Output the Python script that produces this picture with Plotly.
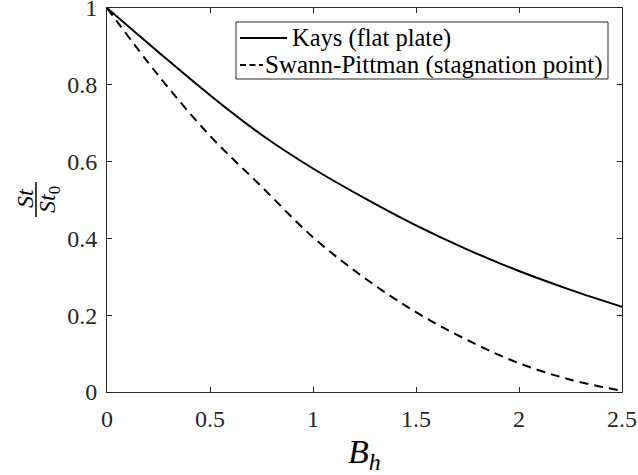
import plotly.graph_objects as go

# Data
B_h = [0, 0.25, 0.5, 0.75, 1.0, 1.25, 1.5, 1.75, 2.0, 2.25, 2.5]
kays = [1.0, 0.885, 0.773, 0.670, 0.582, 0.505, 0.434, 0.371, 0.315, 0.266, 0.222]
swann = [1.0, 0.824, 0.667, 0.535, 0.403, 0.297, 0.208, 0.135, 0.075, 0.032, 0.003]
series_names = ["Kays (flat plate)", "Swann-Pittman (stagnation point)"]
x_ticks = [0, 0.5, 1, 1.5, 2, 2.5]
x_tick_labels = ["0", "0.5", "1", "1.5", "2", "2.5"]
y_ticks = [0, 0.2, 0.4, 0.6, 0.8, 1]
y_tick_labels = ["0", "0.2", "0.4", "0.6", "0.8", "1"]

W, H = 638, 475
L, R, T, Bm = 107, 16, 8, 83
pw, ph = W - L - R, H - T - Bm

def px(xp):
    return (xp - L) / pw

def py(yp):
    return 1 - (yp - T) / ph

FONT = "Liberation Serif"
AX = "#262626"

fig = go.Figure()
fig.add_trace(go.Scatter(x=B_h, y=kays, mode="lines", name=series_names[0],
                         line=dict(color="black", width=2, shape="spline"), showlegend=False))
fig.add_trace(go.Scatter(x=B_h, y=swann, mode="lines", name=series_names[1],
                         line=dict(color="black", width=2, dash="9px,6px", shape="spline"),
                         showlegend=False))

axis_common = dict(showline=True, linecolor=AX, linewidth=1, mirror="ticks",
                   ticks="inside", ticklen=5, tickcolor=AX, showgrid=False, zeroline=False,
                   ticklabeloverflow="allow",
                   tickfont=dict(family=FONT, size=24, color=AX))
fig.update_xaxes(range=[0, 2.5], tickvals=x_ticks, ticktext=x_tick_labels,
                 ticklabelstandoff=5, **axis_common)
fig.update_yaxes(range=[0, 1], tickvals=y_ticks, ticktext=y_tick_labels,
                 ticklabelstandoff=4, **axis_common)

fig.update_layout(
    width=W, height=H, margin=dict(l=L, r=R, t=T, b=Bm, autoexpand=False),
    plot_bgcolor="white", paper_bgcolor="white",
    font=dict(family=FONT, color="black"),
    showlegend=False,
)

# legend drawn by hand (box, line samples, labels)
fig.add_shape(type="rect", xref="paper", yref="paper",
              x0=px(236), x1=px(608), y0=py(22), y1=py(79),
              line=dict(color=AX, width=1), fillcolor="white", layer="above")
fig.add_shape(type="line", xref="paper", yref="paper",
              x0=px(240), x1=px(287), y0=py(38), y1=py(38),
              line=dict(color="black", width=2))
fig.add_shape(type="line", xref="paper", yref="paper",
              x0=px(240), x1=px(263), y0=py(65), y1=py(65),
              line=dict(color="black", width=2, dash="6px,3.5px"))
fig.add_annotation(text=series_names[0], xref="paper", yref="paper",
                   x=px(290), y=py(38), xanchor="left", yanchor="middle",
                   showarrow=False, font=dict(family=FONT, size=24.5, color="black"))
fig.add_annotation(text=series_names[1], xref="paper", yref="paper",
                   x=px(263), y=py(65), xanchor="left", yanchor="middle",
                   showarrow=False, font=dict(family=FONT, size=25, color="black"))

# x-axis title
fig.add_annotation(text="<i>B</i><sub><i>h</i></sub>", xref="paper", yref="paper",
                   x=px(364), y=py(454), xanchor="center", yanchor="middle",
                   showarrow=False, font=dict(family=FONT, size=34, color="black"))
# y-axis title as a rotated fraction
fig.add_annotation(text="<i>St</i>", xref="paper", yref="paper", textangle=-90,
                   x=px(25), y=py(198), xanchor="center", yanchor="middle",
                   showarrow=False, font=dict(family=FONT, size=24, color="black"))
fig.add_annotation(text="<i>St</i><sub>0</sub>", xref="paper", yref="paper", textangle=-90,
                   x=px(49), y=py(200), xanchor="center", yanchor="middle",
                   showarrow=False, font=dict(family=FONT, size=24, color="black"))
fig.add_shape(type="line", xref="paper", yref="paper",
              x0=px(36), x1=px(36), y0=py(182), y1=py(217),
              line=dict(color="black", width=1.5))

fig.write_html("out.html", config={"displayModeBar": False},
               post_script="document.body.style.margin='0';")
